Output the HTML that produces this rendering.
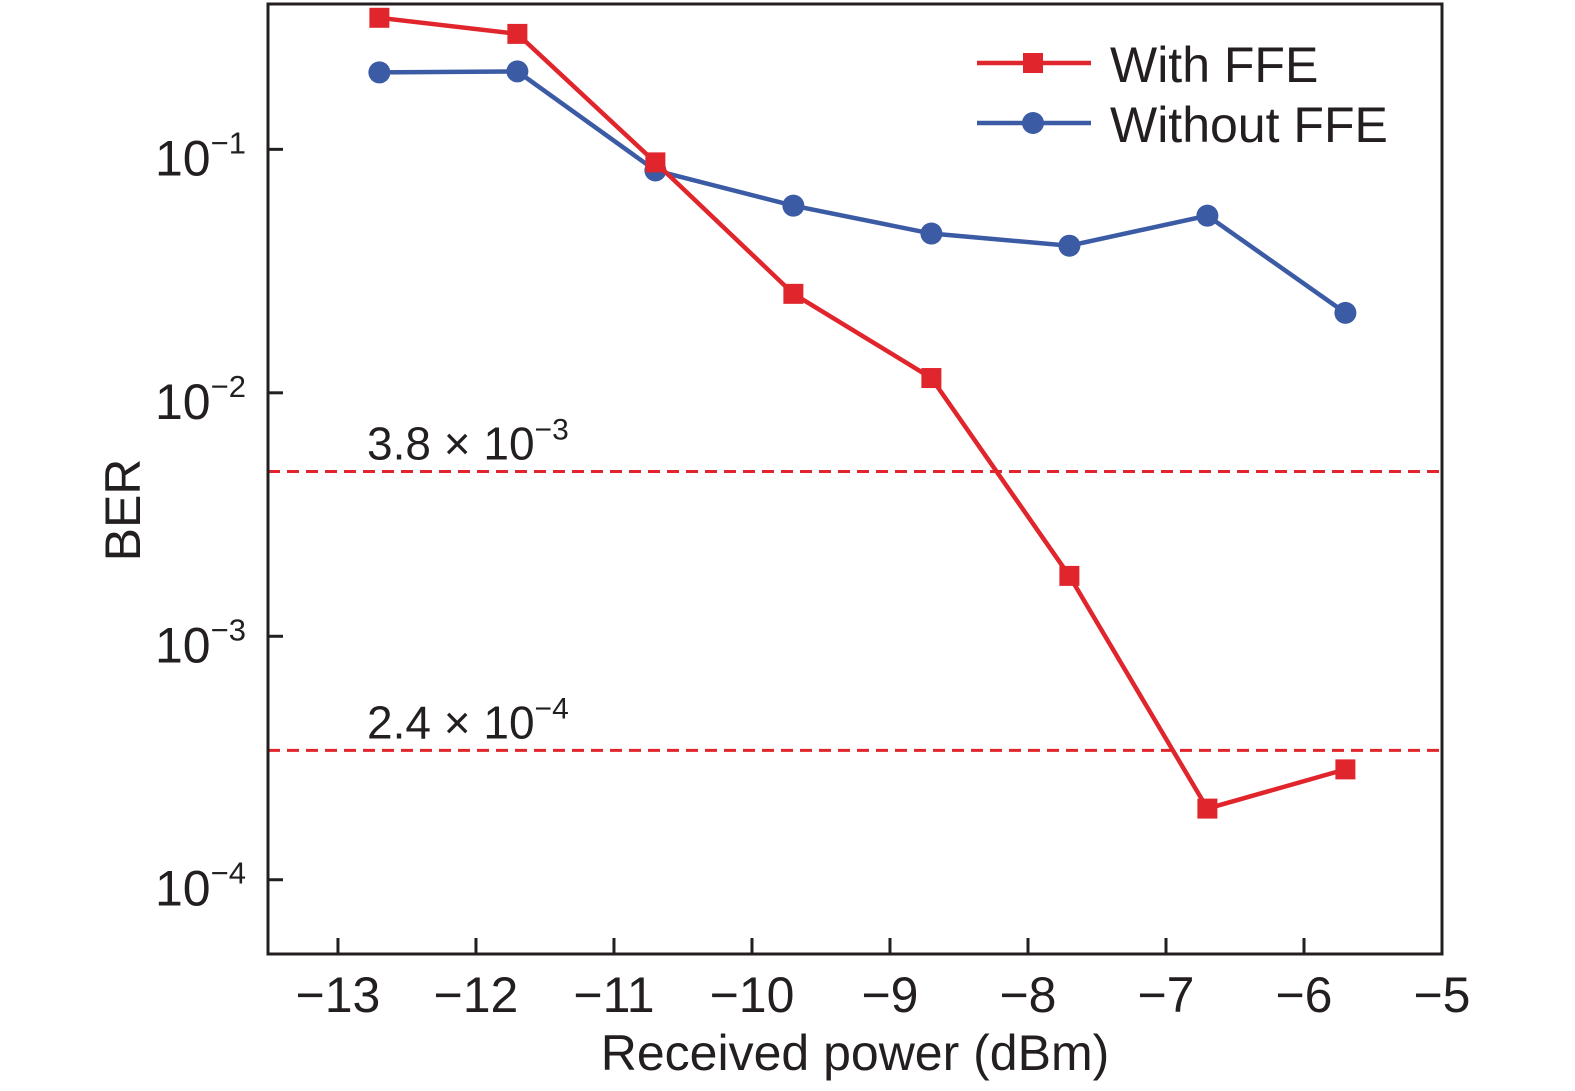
<!DOCTYPE html>
<html><head><meta charset="utf-8"><style>
body{margin:0;background:#fff;}
svg{display:block;font-family:"Liberation Sans",sans-serif;}
</style></head><body>
<svg id="chart" width="1575" height="1091" viewBox="0 0 1575 1091" xmlns="http://www.w3.org/2000/svg">
<g id="plot"></g>
</svg>
<script>
const xValues=[-12.7,-11.7,-10.7,-9.7,-8.7,-7.7,-6.7,-5.7];
const withFFE=[0.347,0.298,0.0884,0.0255,0.0115,0.00177,0.000196,0.000284];
const withoutFFE=[0.207,0.209,0.0819,0.0587,0.0451,0.0402,0.0534,0.0213];
const xTicks=[-13,-12,-11,-10,-9,-8,-7,-6,-5];
const yTickExp=[-1,-2,-3,-4];
const thresholds=[0.00475,0.00034];
const thresholdLabels=[["3.8 × 10","−3"],["2.4 × 10","−4"]];

const L=268,R=1442,T=4,B=954;
const xMin=-13.507,xMax=-5,yMin=-4.305,yMax=-0.403;
const sx=v=>L+(v-xMin)/(xMax-xMin)*(R-L);
const sy=v=>B-(Math.log10(v)-yMin)/(yMax-yMin)*(B-T);
const NS="http://www.w3.org/2000/svg";
const g=document.getElementById('plot');
function mk(tag,attrs,parent){const e=document.createElementNS(NS,tag);for(const k in attrs)e.setAttribute(k,attrs[k]);(parent||g).appendChild(e);return e;}

thresholds.forEach((t,i)=>{
 const y=sy(t);
 const l=mk('line',{x1:L,x2:R,y1:y,y2:y,stroke:'#e0262c','stroke-width':3,'stroke-dasharray':'12 7'});
 
 
 const tx=mk('text',{x:367,y:y-12,'font-size':46,fill:'#231f20'});
 
 
 tx.textContent=thresholdLabels[i][0];
 const s=mk('tspan',{dy:-20,'font-size':30},tx);s.textContent=thresholdLabels[i][1];
});

const box=mk('rect',{x:L,y:T,width:R-L,height:B-T,fill:'none',stroke:'#231f20','stroke-width':3});



xTicks.forEach(v=>{
 const x=sx(v);
 const t=mk('line',{x1:x,x2:x,y1:B,y2:B-16,stroke:'#231f20','stroke-width':3});
 
 
 const lb=mk('text',{x:x,y:1012,'font-size':50,'text-anchor':'middle',fill:'#231f20'});
 
 
 lb.textContent='−'+Math.abs(v);
});
yTickExp.forEach(e=>{
 const y=sy(Math.pow(10,e));
 const t=mk('line',{x1:L,x2:L+15,y1:y,y2:y,stroke:'#231f20','stroke-width':3});
 
 
 const lb=mk('text',{x:155,y:y+26,'font-size':50,fill:'#231f20'});
 
 
 lb.textContent='10';
 const s=mk('tspan',{dy:-22,'font-size':31},lb);s.textContent='−'+Math.abs(e);
});

const xt=mk('text',{x:855,y:1070,'font-size':50,'text-anchor':'middle',fill:'#231f20'});


xt.textContent='Received power (dBm)';
const yt=mk('text',{x:0,y:0,'font-size':50,'text-anchor':'middle',fill:'#231f20',transform:'translate(140,510) rotate(-90)'});


yt.textContent='BER';

function series(vals,color,square,name){
 const pts=vals.map((v,i)=>sx(xValues[i])+','+sy(v)).join(' ');
 const pl=mk('polyline',{points:pts,fill:'none',stroke:color,'stroke-width':4.5});
 
 
 vals.forEach((v,i)=>{
  const x=sx(xValues[i]),y=sy(v);
  const m=square?mk('rect',{x:x-10,y:y-10,width:20,height:20,fill:color}):mk('circle',{cx:x,cy:y,r:11,fill:color});
  
  
 });
}
series(withoutFFE,'#3b5ba5',false,'without-ffe');
series(withFFE,'#e0262c',true,'with-ffe');

[['With FFE','#e0262c',true,63],['Without FFE','#3b5ba5',false,123]].forEach(([lab,c,sq,y])=>{
 const l=mk('line',{x1:977,x2:1091,y1:y,y2:y,stroke:c,'stroke-width':4.5});
 
 
 const m=sq?mk('rect',{x:1023,y:y-10,width:20,height:20,fill:c}):mk('circle',{cx:1033,cy:y,r:11,fill:c});
 
 
 const t=mk('text',{x:1110,y:y+19,'font-size':50,fill:'#231f20'});
 
 
 t.textContent=lab;
});
</script>
</body></html>
